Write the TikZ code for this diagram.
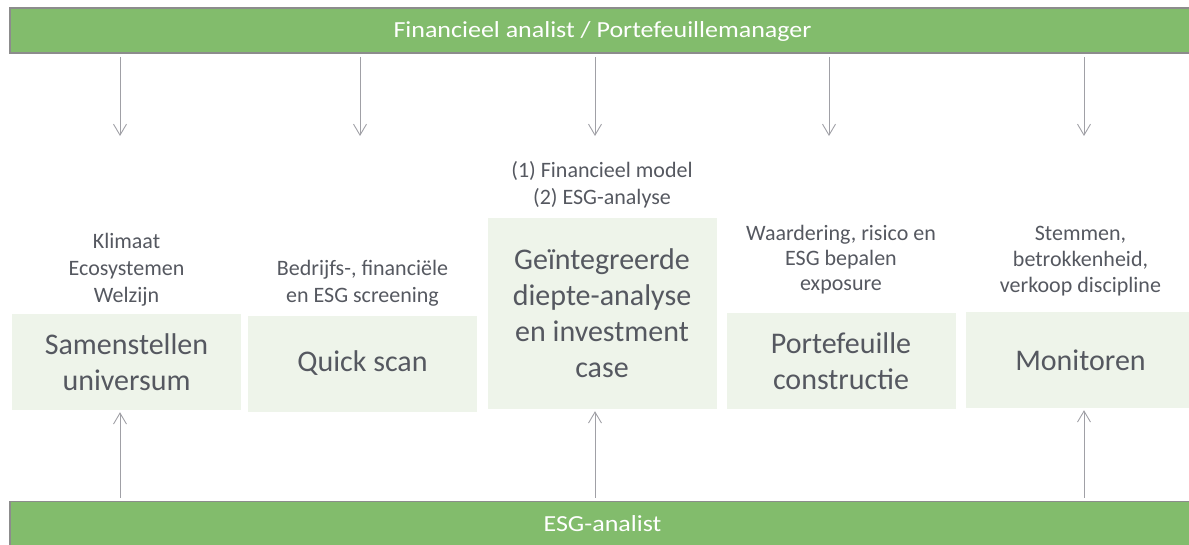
\documentclass[tikz,border=0pt]{standalone}
\usepackage{fontspec}
\setmainfont{Carlito}
\usetikzlibrary{positioning,arrows.meta}
\definecolor{bargreen}{RGB}{130,188,108}
\definecolor{barline}{RGB}{140,140,140}
\definecolor{boxgreen}{RGB}{238,244,234}
\definecolor{txtgray}{RGB}{85,88,96}
\definecolor{arrgray}{RGB}{160,160,166}
\begin{document}
\begin{tikzpicture}[x=1pt,y=-1pt,
  bar/.style={draw=barline,line width=1.5pt,fill=bargreen,text=white,minimum width=1185pt,minimum height=45pt,font=\fontsize{23}{28}\selectfont\addfontfeature{FakeStretch=1.13}},
  stage/.style={fill=boxgreen,text=txtgray,minimum width=229pt,minimum height=96pt,align=center,font=\fontsize{30}{36}\selectfont},
  note/.style={text=txtgray,align=center,inner sep=0pt,font=\fontsize{22}{27}\selectfont},
  flow/.style={draw=arrgray,line width=0.9pt,shorten <=3pt,-{Straight Barb[length=11pt,width=13pt]}}]
\useasboundingbox (0,0) rectangle (1189,544);
\clip (0,0) rectangle (1189,544);
\node[bar,text depth=1pt] (fin) at (602.5,30.5) {Financieel analist / Portefeuillemanager};
\node[bar] (esg) at (602.5,524) {ESG-analist};
\node[stage] (univ) at (126.5,362) {Samenstellen\\universum};
\node[stage] (scan) at (362.5,363.5) {Quick scan};
\node[stage,minimum height=191pt] (deep) at (602,313.5) {Geïntegreerde\\diepte-analyse\\en investment\\case};
\node[stage] (port) at (841,361) {Portefeuille\\constructie};
\node[stage] (mon) at (1080.5,360) {Monitoren};
\node[note,above=7pt of univ] (univtxt) {Klimaat\\Ecosystemen\\Welzijn};
\node[note,above=9pt of scan] (scantxt) {Bedrijfs-, financiële\\en ESG screening};
\node[note,above=9.5pt of deep] (deeptxt) {(1) Financieel model\\(2) ESG-analyse};
\node[note,above=18.5pt of port,font=\fontsize{22}{25}\selectfont] (porttxt) {Waardering, risico en\\ESG bepalen\\exposure};
\node[note,above=15.5pt of mon,font=\fontsize{22}{26}\selectfont] (montxt) {Stemmen,\\betrokkenheid,\\verkoop discipline};
\coordinate (d1) at (120,136);
\coordinate (d2) at (360,136);
\coordinate (d3) at (595,136);
\coordinate (d4) at (829,136);
\coordinate (d5) at (1084,136);
\draw[flow] (fin.south -| d1) -- (d1);
\draw[flow] (fin.south -| d2) -- (d2);
\draw[flow] (fin.south -| d3) -- (d3);
\draw[flow] (fin.south -| d4) -- (d4);
\draw[flow] (fin.south -| d5) -- (d5);
\draw[flow,shorten >=2pt] (esg.north -| d1) -- (univ.south -| d1);
\draw[flow,shorten >=2pt] (esg.north -| d3) -- (deep.south -| d3);
\draw[flow,shorten >=2pt] (esg.north -| d5) -- (mon.south -| d5);
\end{tikzpicture}
\end{document}
